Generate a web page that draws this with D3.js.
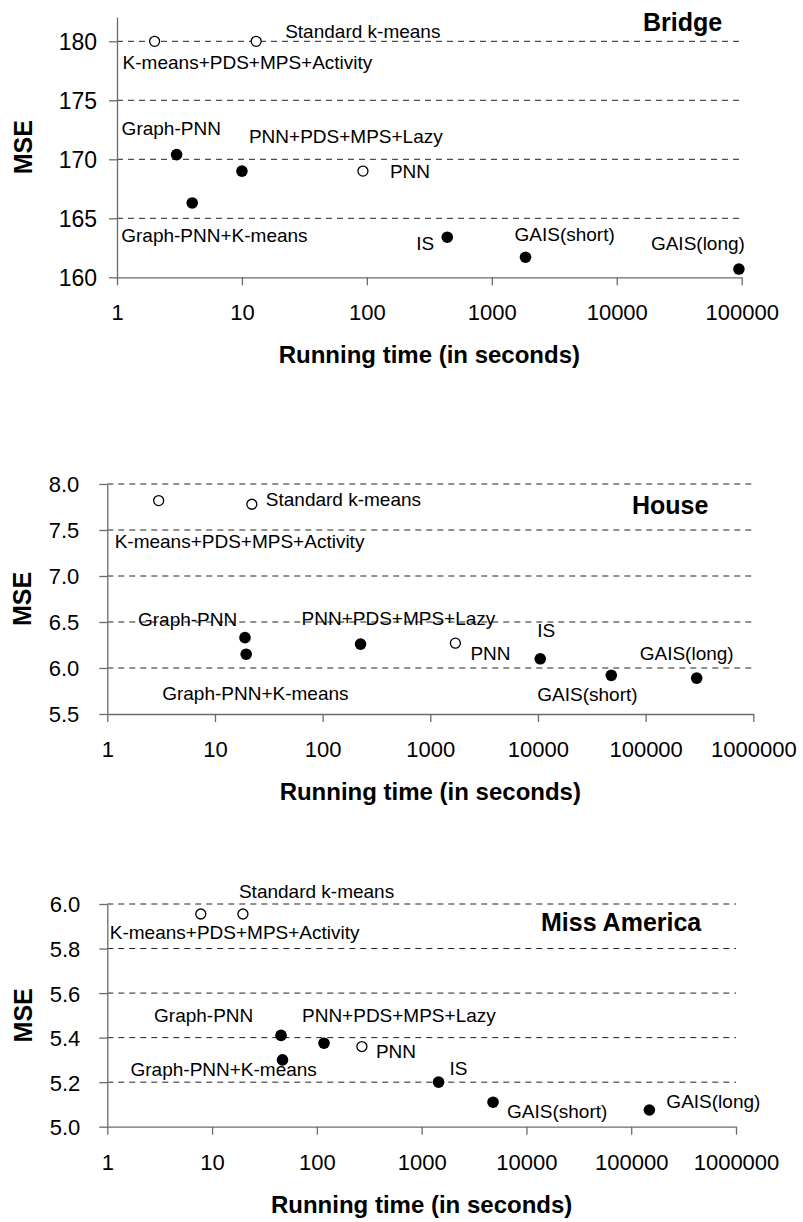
<!DOCTYPE html>
<html>
<head>
<meta charset="utf-8">
<script src="https://cdn.jsdelivr.net/npm/d3@7"></script>
<style>
  html, body { margin: 0; padding: 0; background: #fff; }
  svg { display: block; font-family: Arial, "Liberation Sans", Helvetica, sans-serif; }
</style>
</head>
<body>
<svg id="chart" width="803" height="1222"></svg>
<script>
// Clustering methods compared in each panel
const methods = [
  "K-means+PDS+MPS+Activity", "Standard k-means", "Graph-PNN", "Graph-PNN+K-means",
  "PNN+PDS+MPS+Lazy", "PNN", "IS", "GAIS(short)", "GAIS(long)"
];
// hollow marker = true, filled marker = false
const hollow = [true, true, false, false, false, true, false, false, false];

// Bridge
const bridgeTime = [2, 13, 3, 4, 10, 93, 440, 1860, 95000];
const bridgeMSE  = [180.0, 180.0, 170.4, 166.3, 169.0, 169.0, 163.4, 161.7, 160.7];
const bridgeYTicks = [160, 165, 170, 175, 180];
const bridgeXTicks = [1, 10, 100, 1000, 10000, 100000];

// House
const houseTime = [3, 22, 19, 19.5, 225, 1710, 10500, 48000, 298000];
const houseMSE  = [7.82, 7.78, 6.33, 6.15, 6.26, 6.27, 6.10, 5.92, 5.89];
const houseYTicks = [5.5, 6.0, 6.5, 7.0, 7.5, 8.0];
const houseXTicks = [1, 10, 100, 1000, 10000, 100000, 1000000];

// Miss America
const missTime = [7.8, 19.7, 45.5, 47, 117, 269, 1450, 4800, 149000];
const missMSE  = [5.955, 5.955, 5.41, 5.30, 5.375, 5.36, 5.20, 5.11, 5.075];
const missYTicks = [5.0, 5.2, 5.4, 5.6, 5.8, 6.0];
const missXTicks = [1, 10, 100, 1000, 10000, 100000, 1000000];

const datasetNames = ["Bridge", "House", "Miss America"];
const xTitle = "Running time (in seconds)";
const yTitle = "MSE";

// Layout of the three stacked panels
const panels = [
  {
    name: datasetNames[0], time: bridgeTime, mse: bridgeMSE,
    yTicks: bridgeYTicks, xTicks: bridgeXTicks, yFmt: d3.format("d"),
    x0: 117, x1: 741.7, xMax: 1e5, yTop: 17, yBot: 277.3, yMin: 160, yMax: 182.06,
    yPad: 12, yFont: 23, titleX: 643, titleY: 31, yTitleX: 23,
    labelOffsets: [[-32, 28], [29, -3], [-55, -20], [-71, 39], [7, -28], [27, 7], [-31, 13], [-11, -16], [-88, -19]]
  },
  {
    name: datasetNames[1], time: houseTime, mse: houseMSE,
    yTicks: houseYTicks, xTicks: houseXTicks, yFmt: d3.format(".1f"),
    x0: 107.3, x1: 753.3, xMax: 1e6, yTop: 484, yBot: 714, yMin: 5.5, yMax: 8.0,
    yPad: 20, yFont: 22, titleX: 632, titleY: 514, yTitleX: 22,
    labelOffsets: [[-44, 47], [14, 2], [-107, -12], [-84, 46], [-59, -19], [15, 17], [-3, -22], [-74, 26], [-57, -18]]
  },
  {
    name: datasetNames[2], time: missTime, mse: missMSE,
    yTicks: missYTicks, xTicks: missXTicks, yFmt: d3.format(".1f"),
    x0: 107.3, x1: 736, xMax: 1e6, yTop: 904, yBot: 1126.7, yMin: 5.0, yMax: 6.0,
    yPad: 19, yFont: 22, titleX: 541, titleY: 930.7, yTitleX: 23,
    labelOffsets: [[-91, 25], [-4, -16], [-127, -13], [-152, 16], [-22, -21], [14, 11], [11, -7], [14, 16], [17, -2]]
  }
];

const svg = d3.select("#chart");
const axisColor = "#6b6b6b";

panels.forEach(p => {
  const x = d3.scaleLog().domain([1, p.xMax]).range([p.x0, p.x1]);
  const y = d3.scaleLinear().domain([p.yMin, p.yMax]).range([p.yBot, p.yTop]);
  const g = svg.append("g");

  // dashed horizontal gridlines (every tick above the x axis)
  g.append("g").selectAll("line")
    .data(p.yTicks.filter(t => t > p.yMin))
    .join("line")
    .attr("x1", p.x0).attr("x2", p.x1)
    .attr("y1", d => y(d)).attr("y2", d => y(d))
    .attr("stroke", "#222").attr("stroke-width", 1)
    .attr("stroke-dasharray", "6,5");

  // y axis
  const yAxis = g.append("g")
    .attr("transform", `translate(${p.x0},0)`)
    .call(d3.axisLeft(y).tickValues(p.yTicks).tickSize(8).tickSizeOuter(0)
      .tickPadding(p.yPad).tickFormat(p.yFmt));
  yAxis.select(".domain").attr("stroke", axisColor).attr("stroke-width", 1.3);
  yAxis.selectAll(".tick line").attr("stroke", axisColor).attr("stroke-width", 1.3);
  yAxis.selectAll(".tick text")
    .attr("fill", "#000").attr("font-size", p.yFont).attr("font-family", null)
    .attr("dy", "0.36em");

  // x axis
  const xAxis = g.append("g")
    .attr("transform", `translate(0,${p.yBot})`)
    .call(d3.axisBottom(x).tickValues(p.xTicks).tickSize(8).tickSizeOuter(0)
      .tickFormat(d3.format("d")));
  xAxis.select(".domain").attr("stroke", axisColor).attr("stroke-width", 1.3);
  xAxis.selectAll(".tick line").attr("stroke", axisColor).attr("stroke-width", 1.3);
  xAxis.selectAll(".tick text")
    .attr("fill", "#000").attr("font-size", 22).attr("font-family", null)
    .attr("y", 43).attr("dy", null);

  // axis titles
  g.append("text")
    .attr("x", (p.x0 + p.x1) / 2).attr("y", p.yBot + 86)
    .attr("text-anchor", "middle").attr("font-weight", "bold").attr("font-size", 24)
    .text(xTitle);
  g.append("text")
    .attr("transform", `translate(${p.yTitleX},${(p.yTop + p.yBot) / 2}) rotate(-90)`)
    .attr("text-anchor", "middle").attr("dominant-baseline", "central")
    .attr("font-weight", "bold").attr("font-size", 25)
    .text(yTitle);

  // dataset title
  g.append("text")
    .attr("x", p.titleX).attr("y", p.titleY)
    .attr("font-weight", "bold").attr("font-size", 25)
    .text(p.name);

  const rows = methods.map((m, i) => ({
    method: m, t: p.time[i], v: p.mse[i], open: hollow[i], off: p.labelOffsets[i]
  }));

  // method labels
  g.append("g").selectAll("text")
    .data(rows)
    .join("text")
    .attr("x", d => x(d.t) + d.off[0])
    .attr("y", d => y(d.v) + d.off[1])
    .attr("font-size", 19)
    .attr("fill", "#000")
    .text(d => d.method);

  // markers
  g.append("g").selectAll("circle")
    .data(rows)
    .join("circle")
    .attr("cx", d => x(d.t))
    .attr("cy", d => y(d.v))
    .attr("r", d => d.open ? 5 : 5.8)
    .attr("fill", d => d.open ? "#fff" : "#000")
    .attr("stroke", "#000")
    .attr("stroke-width", d => d.open ? 1.3 : 0);
});
</script>
</body>
</html>
